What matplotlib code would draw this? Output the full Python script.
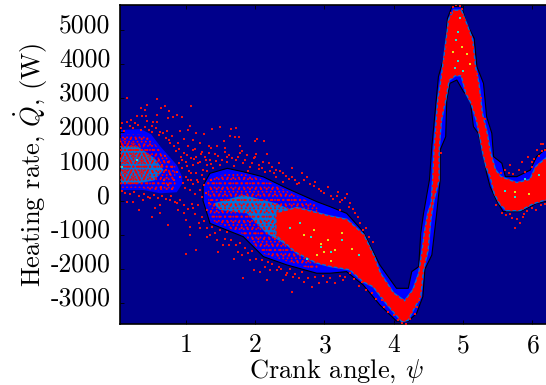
import numpy as np
import matplotlib
matplotlib.use('Agg')
import matplotlib.pyplot as plt
from matplotlib.transforms import ScaledTranslation

plt.rcParams['font.family'] = 'cmr10'
plt.rcParams['mathtext.fontset'] = 'cm'
plt.rcParams['axes.unicode_minus'] = False
plt.rcParams['axes.formatter.use_mathtext'] = True
plt.rcParams['hatch.linewidth'] = 0.8

x_ticks = [1, 2, 3, 4, 5, 6]
y_ticks = [-3000, -2000, -1000, 0, 1000, 2000, 3000, 4000, 5000]
y_tick_labels = ['-3000', '-2000', '-1000', '0', '1000', '2000', '3000', '4000', '5000']

# outer contour of the left lobe
lobe_psi = [0.05, 0.35, 0.5, 0.63, 0.87, 0.95, 0.95, 0.87, 0.63, 0.39, 0.05]
lobe_q = [2070, 2100, 1950, 1600, 1050, 700, 500, 250, 219, 317, 317]

# outer contour of the main band, along the top then back along the bottom
outer_psi = [1.25, 1.35, 1.6, 1.83, 2.12, 2.46, 2.89, 3.08, 3.32, 3.56, 3.80, 4.04, 4.21, 4.26, 4.36,
             4.39, 4.43, 4.515, 4.55, 4.645, 4.74, 4.775, 4.84, 4.98, 5.05, 5.16, 5.2, 5.295, 5.34,
             5.415, 5.44, 5.56, 5.61, 5.776, 5.97, 6.06, 6.3,
             6.3, 6.06, 5.97, 5.82, 5.58, 5.49, 5.39, 5.34, 5.295, 5.22, 5.15, 5.10, 5.006, 4.91,
             4.81, 4.765, 4.75, 4.67, 4.67, 4.62, 4.55, 4.45, 4.42, 4.33, 4.21, 4.04, 3.80, 3.56,
             3.32, 3.08, 2.89, 2.46, 2.12, 1.83, 1.35, 1.25]
outer_q = [450, 805, 950, 850, 700, 365, -25, -170, -366, -903, -1878, -2561, -2561, -2073, -1927,
           -950, -366, 610, 1585, 3634, 4317, 5340, 5683, 5683, 5195, 4756, 3927, 3439, 2463,
           1976, 1293, 1100, 707, 707, 900, 1293, 1700,
           24, -74, -170, -317, -317, -25, 414, 805, 1293, 1976, 2170, 3000, 3195, 3536,
           3439, 2951, 1878, 1488, 610, -366, -1586, -2000, -2805, -3293, -3520, -3520, -3049, -2464,
           -2073, -2120, -2120, -1878, -1634, -1050, -660, 0]

# dense red core, top edge then bottom edge
core_psi = [2.31, 2.6, 2.89, 3.08, 3.32, 3.56, 3.71, 3.80, 3.99, 4.16, 4.285, 4.37, 4.42, 4.45, 4.50,
            4.55, 4.57, 4.59, 4.645, 4.69, 4.74, 4.80, 4.87, 4.97, 5.05, 5.13, 5.17, 5.22, 5.27,
            5.34, 5.39, 5.46, 5.535, 5.58, 5.776, 5.97, 6.06, 6.3,
            6.3, 6.0, 5.82, 5.63, 5.535, 5.46, 5.40, 5.34, 5.295, 5.25, 5.20, 5.126, 5.05, 4.98,
            4.886, 4.79, 4.74, 4.68, 4.645, 4.645, 4.57, 4.525, 4.487, 4.42, 4.38, 4.285, 4.2,
            4.12, 3.90, 3.71, 3.56, 3.37, 3.08, 2.89, 2.6, 2.31]
core_q = [-366, -220, -366, -464, -561, -1000, -1634, -2122, -2708, -2952, -2610, -2122, -1439, -952, -366,
          -74, 609, 1488, 2951, 3536, 4317, 5293, 5560, 5560, 5146, 4707, 3927, 3439, 2561,
          1976, 1390, 900, 707, 658, 512, 609, 1000, 1400,
          122, -74, -269, -269, -74, 219, 707, 1000, 1390, 1878, 2366, 2854, 3146, 3683,
          3683, 3536, 2951, 2366, 1488, 609, 24, -561, -1439, -2025, -2805, -3150, -3480,
          -3520, -3000, -2500, -2350, -2000, -1900, -1800, -1500, -1000]

# lighter patches under the red dots
patch1_psi = [0.05, 0.3, 0.55, 0.68, 0.55, 0.3, 0.05]
patch1_q = [1600, 1600, 1250, 900, 600, 500, 500]
patch2_psi = [1.4, 1.83, 2.31, 2.74, 3.08, 3.08, 2.79, 2.5, 2.16, 1.88, 1.49]
patch2_q = [-75, 170, -75, -464, -756, -1927, -1732, -1342, -951, -366, -269]

# mottled regions with red dots over blue
mottle_psi = [1.3, 1.6, 1.85, 2.15, 2.5, 2.9, 2.9, 2.5, 2.12, 1.83, 1.35]
mottle_q = [600, 800, 780, 600, 250, -150, -2050, -1800, -1550, -980, -560]
mottle2_psi = [0.05, 0.35, 0.5, 0.62, 0.85, 0.85, 0.6, 0.35, 0.05]
mottle2_q = [1950, 1950, 1800, 1500, 1000, 350, 280, 380, 380]
lobe_core_psi = [0.05, 0.2, 0.45, 0.52, 0.45, 0.2, 0.05]
lobe_core_q = [1800, 1750, 1500, 1050, 650, 450, 450]

# single red dots
dot_psi = [.158, .59, 1.07, .44, .35, .64, .70, .41, .76, .30, .37, .43, .59, .88, .94, .82, .75, .21, .08, .15,
           .27, .44, .53, .59, .51, 1.06, 1.15, 1.04, 1.38, 1.49, 1.66, 1.73, 1.26, .92, .73, .63, 1.64, 1.71,
           1.77, 2.00, 2.03, 2.13, 1.79, 1.55, 1.45, 1.33, 1.21, 1.10, .98, .89, .80, .76, 1.11, 1.23, 1.36,
           1.57, 1.81, 2.02, 2.17, 1.98, 1.76, 1.59, 1.42, 1.28, 1.15, 1.02, 2.34, 2.21, 2.53, 2.41, 2.67, 2.75,
           2.53, 2.30, 2.05, 1.93,
           .90, .95, 1.0, 1.05, 1.1, 1.15, 1.2, 1.25, 1.3, 1.35, 1.0, 1.08, 1.18, 1.27, .93, 1.12, 1.4, 1.5,
           1.6, 1.7, 1.82, 1.9, 2.1, 2.2, 2.3, 2.4, 2.6, 2.85, 2.95, 3.1, 3.2, 3.3,
           .32, .245, .15, .51, .63, .75, .56, .63, .89, 1.01, 1.06, 1.0, 1.15, 1.21, 1.35, 1.47, 1.59, 1.76,
           1.69, 1.81, 1.98, 2.07, 1.83, 2.17, 2.22, 2.34, 2.46, 2.55, 2.70, 2.53, 2.82, 3.04, 2.41, 2.14, 1.93,
           1.54, 1.30, 1.06, .97, .87, .77, .39, .49, 1.23, 1.11, 1.18, 1.3, 1.45, 1.62,
           5.75, 5.70, 5.87, 6.12, 5.94, 5.99, 5.85, 5.68, 6.06, 6.16,
           3.32, 3.23, 3.22, 3.37, 3.44, 3.56, 3.27, 3.37, 3.54, 3.83]
dot_q = [3010, 2970, 2785, 2805, 2727, 2707, 2776, 2660, 2620, 2493, 2483, 2483, 2512, 2512, 2454, 2444, 2415, 2366, 2268, 2317,
         2268, 2346, 2317, 2298, 2190, 2190, 1995, 2073, 2102, 2170, 2093, 2122, 1956, 2054, 2054, 2024, 1907, 1878,
         1859, 1751, 1800, 1741, 1615, 1761, 1615, 1615, 1683, 1780, 1800, 1683, 1898, 1780, 1488, 1439, 1537,
         1537, 1468, 1371, 1361, 1244, 1293, 1293, 1371, 1293, 1293, 1341, 1117, 883, 951, 824, 805, 707,
         707, 902, 1049, 1000,
         1100, 950, 1150, 880, 1050, 800, 1150, 900, 1050, 1200, 700, 620, 560, 650, 1280, 1230, 950, 1050,
         1150, 1020, 1120, 880, 950, 1100, 700, 560, 500, 420, 300, 150, 250, 90,
         -269, -44, -44, -464, -366, -708, -220, -122, -269, -561, -1000, -1556, -1439, -805, -1000, -1488, -903, -1488,
         -1713, -1585, -2025, -2074, -2249, -2317, -2025, -1927, -2122, -2220, -2366, -2659, -2513, -2366, -2317, -1927, -1732,
         -1293, -1049, -756, -366, -73, 24, 24, 73, -464, -220, -122, -269, -1147, -1293,
         -805, -513, -464, 1663, 1293, 1146, 1146, 1050, 1488, 1663,
         200, -25, -268, -73, -366, -854, -2317, -2122, -2366, -2903]

# fringe dots along the edges of the band
fringe_psi = [.07, .11, .19, .24, .31, .36, .41, .47, .52, .57, .62, .67, .71, .78, .83, .86, .91, .97, 1.03, 1.07,
              1.13, 1.17, 1.22, 1.29, 1.33, 1.37, 1.43, 1.47, 1.53, 1.56, 1.63, 1.67, 1.72, 1.78, 1.85, 1.88, 1.95,
              2.0, 2.06, 2.11, 2.15, 2.24, 2.28, 2.36, 2.44, 2.49, 2.57, 2.63, 2.71, 2.79, 2.87, 2.92, 3.0, 3.05,
              3.13, 3.18, 3.26, 3.35, 3.41, 3.48, 3.52, 3.6, 3.65, 3.7,
              .08, .13, .2, .26, .33, .4, .46, .54, .6, .66, .72, .79, .84, .92, .98, 1.03, 1.09, 1.14, 1.19, 1.26,
              1.31, 1.38, 1.42, 1.5, 1.56, 1.66, 1.72, 1.78, 1.86, 1.9, 1.95, 2.02, 2.1, 2.18, 2.25, 2.31, 2.38,
              2.44, 2.5, 2.58, 2.64, 2.68, 2.77, 2.86, 2.92, 2.98, 3.08, 3.15, 3.22, 3.3, 3.43, 3.5, 3.6, 3.68,
              3.75, 3.86, 3.92,
              .88, .92, .96, .99, 1.03, 1.06, 1.1, 1.13, 1.16, 1.2, 1.23, 1.26, 1.29, 1.33, 1.24, 1.31, 1.36, 1.02,
              1.07, .94, .62, .66, .7, .72, .75, .78, .8, .83, .68, .74, .8, .64,
              4.83, 4.86, 4.9, 4.95, 4.98, 5.02, 4.75, 4.72, 5.15, 5.2, 5.26, 5.31, 4.62, 4.68,
              5.55, 5.6, 5.66, 5.72, 5.8, 5.9, 6.0, 6.03, 6.1, 6.14, 6.18,
              5.56, 5.62, 5.68, 5.78, 5.82, 5.88, 5.92, 6.0, 6.05, 6.12, 6.18, 5.48,
              4.0, 4.06, 4.12, 4.18, 4.24, 4.3, 4.34, 4.37]
fringe_q = [2130, 2050, 2190, 2120, 2210, 2060, 2160, 2080, 2010, 2120, 1920, 1990, 1850, 1690, 1590, 1450, 1520, 1410, 1600, 1240,
            1510, 1120, 1370, 1180, 1410, 1080, 1170, 1300, 1190, 1420, 1330, 1260, 1180, 1400, 1180, 1330, 1110,
            1280, 930, 1150, 830, 990, 810, 860, 730, 640, 610, 520, 610, 480, 540, 350, 230, 410,
            60, 130, 20, -170, -250, -480, -640, -800, -1060, -1200,
            280, 230, 190, 250, 140, 210, 120, 170, 80, 130, 50, 140, -30, 30, -110, -250, -90, -390, -660, -580,
            -800, -760, -950, -860, -1120, -1150, -1280, -1240, -1370, -1520, -1480, -1700, -1720, -1800, -1860, -2030, -2000,
            -2180, -2010, -2130, -2270, -2090, -2260, -2230, -2400, -2190, -2260, -2400, -2200, -2240, -2300, -2500, -2620, -2700,
            -2860, -3110, -3250,
            850, 700, 520, 380, 600, 310, 480, 200, 620, 330, 100, 470, 240, -50, 750, 880, 600, 1020,
            820, 1180, 1200, 1050, 1300, 900, 1150, 780, 1000, 600, 600, 450, 350, 400,
            5500, 5680, 5720, 5700, 5600, 5350, 4500, 4100, 4500, 3700, 3000, 2400, 2000, 1400,
            800, 900, 820, 780, 900, 840, 1000, 1220, 1300, 1450, 1500,
            -350, -420, -380, -520, -650, -380, -300, -200, -260, -120, -100, -120,
            -3350, -3480, -3590, -3600, -3470, -3300, -3100, -2900]

# bright specks inside the red core
cyan_psi = [2.5, 2.65, 2.8, 2.95, 3.1, 2.75, 3.25, 4.88, 4.93, 4.95, 4.9, 5.0, 4.92, 5.9, 5.75, 6.1, 5.6, 0.08, 0.3, 3.5]
cyan_q = [-800, -650, -1050, -1350, -1500, -1700, -1150, 3900, 4100, 5350, 4700, 3800, 4950, 650, 100, 750, 300, 1000, 1200, -1600]
yellow_psi = [2.7, 2.85, 2.95, 3.05, 3.15, 3.25, 3.4, 2.9, 3.1, 4.85, 4.98, 5.05, 5.1, 5.75, 5.95, 3.0]
yellow_q = [-1000, -850, -1250, -1150, -1450, -950, -1400, -1600, -1750, 4350, 4500, 4300, 4000, 250, 200, -1500]

fig = plt.figure(figsize=(5.46, 3.85), dpi=100)
ax = fig.add_axes([120 / 546, 61 / 385, 432 / 546, 319 / 385])
ax.set_facecolor('#00008b')
ax.set_xlim(0.052, 6.283)
ax.set_ylim(-3606, 5731)

ax.fill(lobe_psi, lobe_q, facecolor='#0000ff', edgecolor='none', zorder=1)
ax.fill(outer_psi, outer_q, facecolor='#0000ff', edgecolor='black', lw=0.8, zorder=1)
ax.fill(patch1_psi, patch1_q, facecolor='#0070e0', edgecolor='none', zorder=2)
ax.fill(patch2_psi, patch2_q, facecolor='#0070e0', edgecolor='none', zorder=2)
# two dot screens with different pitch so the overlap does not look like a grid
ax.fill(mottle_psi, mottle_q, facecolor='none', edgecolor='red', hatch='...', lw=0, zorder=3)
ax.fill(mottle_psi, mottle_q, facecolor='none', edgecolor='red', hatch='....', lw=0, zorder=3)
ax.fill(mottle2_psi, mottle2_q, facecolor='none', edgecolor='red', hatch='...', lw=0, zorder=3)
ax.fill(mottle2_psi, mottle2_q, facecolor='none', edgecolor='red', hatch='....', lw=0, zorder=3)
ax.fill(lobe_core_psi, lobe_core_q, facecolor='none', edgecolor='red', hatch='.....', lw=0, zorder=3)
ax.fill(core_psi, core_q, facecolor='red', edgecolor='#0070e0', lw=2.0, zorder=4)
ax.fill(core_psi, core_q, facecolor='red', edgecolor='red', lw=1.6, ls=':', zorder=5)
ax.scatter(cyan_psi, cyan_q, s=2, marker='s', color='#20e0d0', linewidths=0, zorder=6)
ax.scatter(yellow_psi, yellow_q, s=2, marker='s', color='#e8e020', linewidths=0, zorder=6)
ax.scatter(dot_psi, dot_q, s=1.6, marker='s', color='#f01010', linewidths=0, zorder=6)
ax.scatter(fringe_psi, fringe_q, s=1.6, marker='s', color='#f01010', linewidths=0, zorder=6)

ax.set_xticks(x_ticks)
ax.set_yticks(y_ticks)
ax.set_yticklabels(y_tick_labels)
ax.tick_params(direction='in', length=3, width=0.6, top=True, right=True, labelsize=18.5, color='black')
ax.tick_params(axis='x', pad=7)
ax.tick_params(axis='y', pad=7)
for label in ax.get_yticklabels():
    label.set_transform(label.get_transform() + ScaledTranslation(0, 5 / 72, fig.dpi_scale_trans))
for spine in ax.spines.values():
    spine.set_linewidth(1.2)

ax.set_xlabel(r'Crank angle, $\psi$', fontsize=19, labelpad=0)
ax.set_ylabel(r'Heating rate, $\dot{Q}$, (W)', fontsize=19, labelpad=0)

fig.savefig('out.png', dpi=100)
